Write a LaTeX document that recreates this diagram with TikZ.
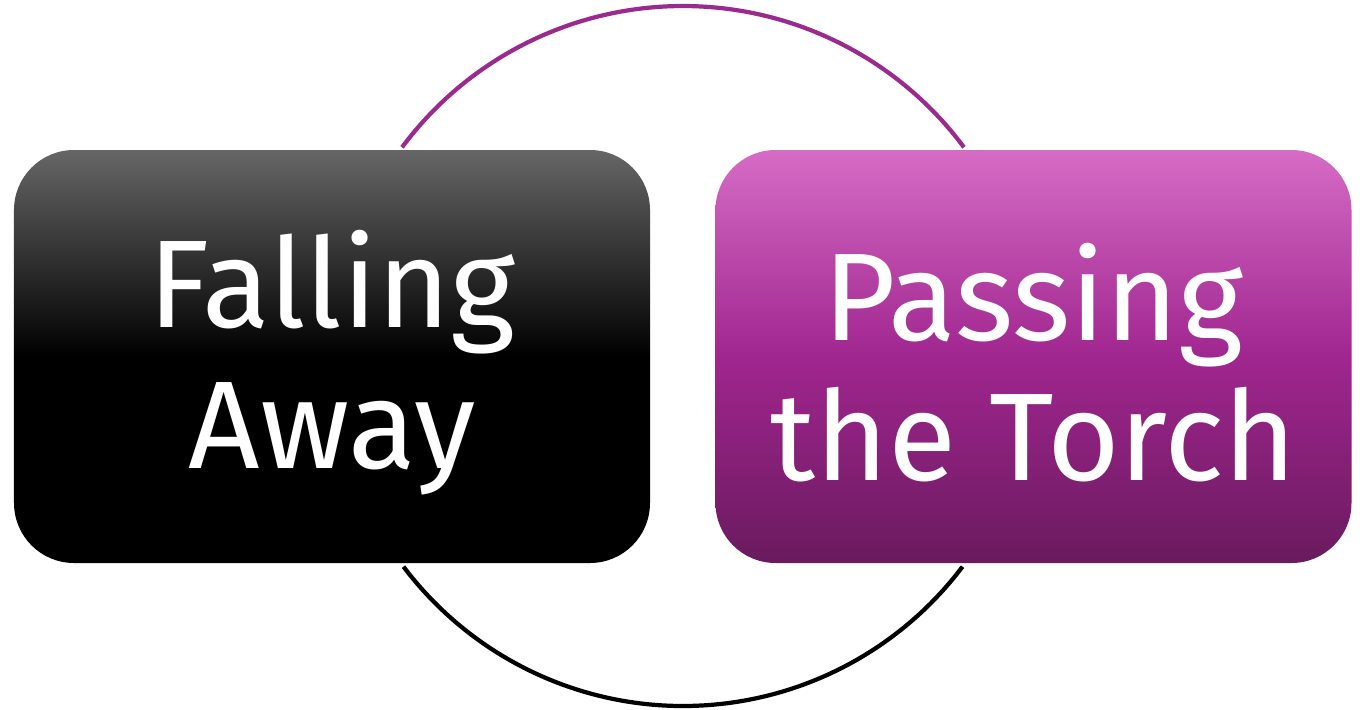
\documentclass[tikz,border=0pt]{standalone}
\usepackage{fontspec}
\setmainfont{Fira Sans}
\usepackage{xcolor}
\usepackage{tikz}
\usetikzlibrary{positioning, calc}
\definecolor{graytop}{HTML}{666666}
\definecolor{pinktop}{HTML}{D66CC6}
\definecolor{pinkmid}{HTML}{A0268F}
\definecolor{pinkbot}{HTML}{6A1A5E}
\definecolor{arcpurple}{HTML}{9B2A8F}

\tikzset{
  tile/.style={rounded corners=1.2cm, minimum width=12.72cm, minimum height=8.26cm,
    align=center, text=white, inner sep=0pt},
  tiletext/.style={text=white, align=center, font=\fontsize{71}{80}\selectfont},
  ring/.style={line width=2.4pt}
}

\begin{document}
\begin{tikzpicture}
\useasboundingbox (0,0) rectangle (27.32,-14.2);
% circle behind the tiles
\coordinate (c) at (13.66,-7.12);
\draw[ring, arcpurple] ($(c)+(143.4:7)$) arc[start angle=143.4, end angle=36.6, radius=7];
\draw[ring, black] ($(c)+(-143:7)$) arc[start angle=-143, end angle=-37, radius=7];
%
\node[tile, top color=graytop, bottom color=black, middle color=black] (fall) at (6.64,-7.13) {};
\node[tiletext] (falltext) at ($(fall)+(0,-0.12)$) {Falling\\Away};
%
\node[tile, top color=pinktop, bottom color=pinkbot, middle color=pinkmid] (torch) at (20.67,-7.13) {};
\node[tiletext] (torchtext) at ($(torch)+(0,-0.12)$) {Passing\\the Torch};
\end{tikzpicture}
\end{document}
